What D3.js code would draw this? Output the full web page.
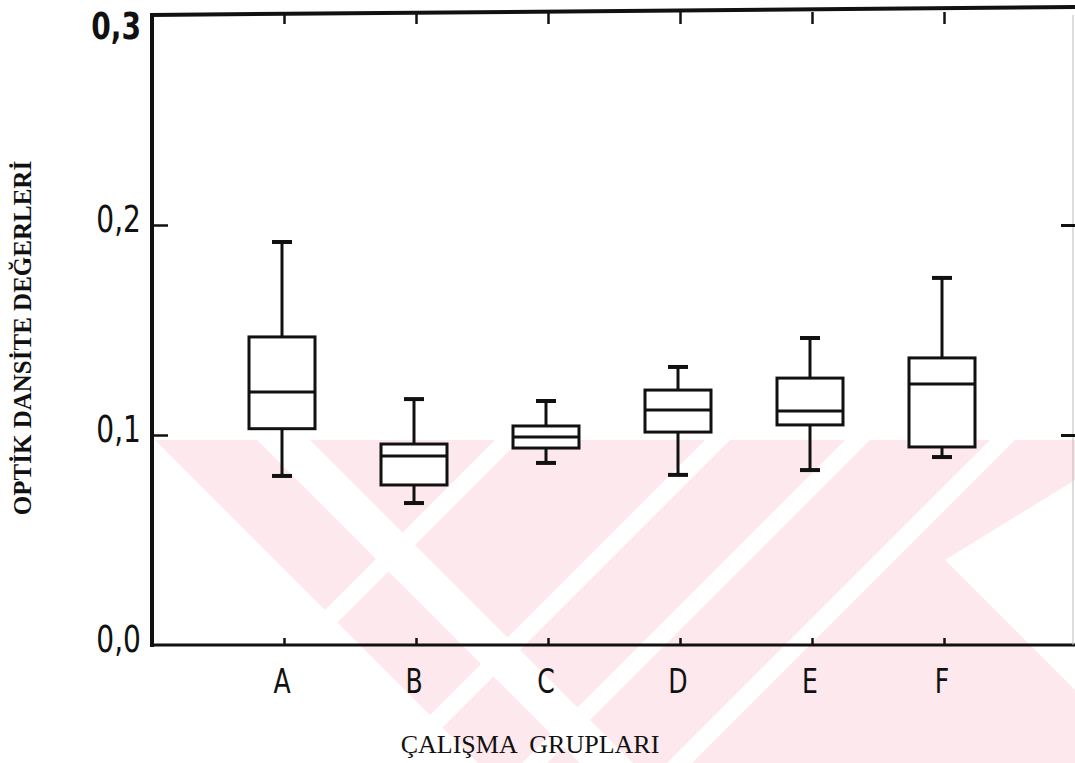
<!DOCTYPE html>
<html>
<head>
<meta charset="utf-8">
<script src="https://cdn.jsdelivr.net/npm/d3@7/dist/d3.min.js"></script>
<style>
  html, body { margin: 0; padding: 0; background: #fff; }
  svg { display: block; }
</style>
</head>
<body>
<svg id="chart" width="1075" height="763"></svg>
<script>
// ---- data ----
const categories = ["A", "B", "C", "D", "E", "F"];
const whiskerLow  = [0.0805, 0.0676, 0.0867, 0.0810, 0.0833, 0.0895];
const quartile1   = [0.1030, 0.0762, 0.0938, 0.1014, 0.1048, 0.0943];
const medians     = [0.1205, 0.0900, 0.0990, 0.1119, 0.1114, 0.1243];
const quartile3   = [0.1467, 0.0957, 0.1043, 0.1214, 0.1271, 0.1367];
const whiskerHigh = [0.1919, 0.1171, 0.1162, 0.1324, 0.1462, 0.1748];
const yTicks = [0.0, 0.1, 0.2, 0.3];
const yTickLabels = ["0,0", "0,1", "0,2", "0,3"];
const xTitle = "ÇALIŞMA  GRUPLARI";
const yTitle = "OPTİK DANSİTE DEĞERLERİ";

(function () {
// ---- layout ----
const svg = d3.select("#chart");
const pL = 152, pR = 1076, pT = 15, pB = 645;
const x = d3.scaleLinear().domain([0, categories.length + 1]).range([pL, pR]);
const y = d3.scaleLinear().domain([0, 0.3]).range([pB, pT]);
const tickFont = "'DejaVu Sans', sans-serif";

// ---- watermark (light pink background mark with white diagonal cuts) ----
const wm = svg.append("g");
const pink = "#fde9ed";
wm.append("rect").attr("x", 155).attr("y", 440).attr("width", 920).attr("height", 323).attr("fill", pink);
const cuts = [
  [[155, 440], [478, 763], [155, 763]],
  [[257, 440], [310, 440], [633, 763], [580, 763]],
  [[495, 440], [520, 440], [197, 763], [172, 763]],
  [[705, 440], [730, 440], [407, 763], [382, 763]],
  [[845, 440], [870, 440], [547, 763], [522, 763]],
  [[990, 440], [1015, 440], [692, 763], [667, 763]],
  [[1075, 480], [945, 560], [1075, 690]]
];
cuts.forEach(p => wm.append("polygon").attr("fill", "#fff").attr("points", p.map(d => d.join(",")).join(" ")));

// ---- frame / axes ----
const ink = "#111";
svg.append("line").attr("x1", pL).attr("x2", pL).attr("y1", y(0.3) - 2).attr("y2", y(0) + 2)
  .attr("stroke", ink).attr("stroke-width", 4);
svg.append("line").attr("x1", pL - 2).attr("x2", 1075).attr("y1", y(0)).attr("y2", y(0))
  .attr("stroke", ink).attr("stroke-width", 3);
svg.append("line").attr("x1", pL - 2).attr("x2", 1075).attr("y1", y(0.3)).attr("y2", y(0.3) - 8)
  .attr("stroke", ink).attr("stroke-width", 4);
svg.append("line").attr("x1", 1073).attr("x2", 1073).attr("y1", y(0.3)).attr("y2", y(0))
  .attr("stroke", "#bbb").attr("stroke-width", 1);

// y ticks: left (inward) and right (inward)
const yAxisL = d3.axisRight(y).tickValues([0.1, 0.2]).tickSize(16).tickFormat("");
const gL = svg.append("g").attr("transform", `translate(${pL},0)`).call(yAxisL);
gL.select(".domain").remove();
gL.selectAll(".tick line").attr("stroke", ink).attr("stroke-width", 2.5);
const yAxisR = d3.axisLeft(y).tickValues([0.1, 0.2]).tickSize(14).tickFormat("");
const gR = svg.append("g").attr("transform", `translate(1075,0)`).call(yAxisR);
gR.select(".domain").remove();
gR.selectAll(".tick line").attr("stroke", ink).attr("stroke-width", 3);

// y tick labels (narrow lettering)
svg.append("g").selectAll("g").data(yTicks).join("g")
  .attr("transform", (d, i) => `translate(141,${i === 3 ? 39 : y(d) + 7}) scale(0.74,1)`)
  .append("text")
  .attr("text-anchor", "end")
  .attr("font-family", tickFont)
  .attr("font-size", 38)
  .attr("font-weight", (d, i) => i === 3 ? "bold" : "normal")
  .attr("fill", ink)
  .text((d, i) => yTickLabels[i]);

// x ticks: bottom (up) and top (down)
const xPos = categories.map((c, i) => i + 1);
const xAxisB = d3.axisTop(x).tickValues(xPos).tickSize(7).tickFormat("");
const gB = svg.append("g").attr("transform", `translate(0,${pB})`).call(xAxisB);
gB.select(".domain").remove();
gB.selectAll(".tick line").attr("stroke", ink).attr("stroke-width", 2.5);
const xAxisT = d3.axisBottom(x).tickValues(xPos).tickSize(12).tickFormat("");
const gT = svg.append("g").attr("transform", `translate(0,${pT - 3})`).call(xAxisT);
gT.select(".domain").remove();
gT.selectAll(".tick line").attr("stroke", ink).attr("stroke-width", 2.5);

// x tick labels
svg.append("g").selectAll("g").data(categories).join("g")
  .attr("transform", (d, i) => `translate(${x(i + 1) - 2},693) scale(0.74,1)`)
  .append("text")
  .attr("text-anchor", "middle")
  .attr("font-family", tickFont)
  .attr("font-size", 34)
  .attr("fill", ink)
  .text(d => d);

// ---- boxes ----
const boxW = 66, capW = 20;
const g = svg.append("g").attr("stroke", ink).attr("fill", "none");
categories.forEach((c, i) => {
  const cx = x(i + 1) - 2;
  g.append("line").attr("x1", cx).attr("x2", cx).attr("y1", y(quartile3[i])).attr("y2", y(whiskerHigh[i])).attr("stroke-width", 3);
  g.append("line").attr("x1", cx).attr("x2", cx).attr("y1", y(quartile1[i])).attr("y2", y(whiskerLow[i])).attr("stroke-width", 3);
  g.append("line").attr("x1", cx - capW / 2).attr("x2", cx + capW / 2).attr("y1", y(whiskerHigh[i])).attr("y2", y(whiskerHigh[i])).attr("stroke-width", 4);
  g.append("line").attr("x1", cx - capW / 2).attr("x2", cx + capW / 2).attr("y1", y(whiskerLow[i])).attr("y2", y(whiskerLow[i])).attr("stroke-width", 4);
  g.append("rect").attr("x", cx - boxW / 2).attr("width", boxW)
    .attr("y", y(quartile3[i])).attr("height", y(quartile1[i]) - y(quartile3[i]))
    .attr("fill", "#fff").attr("stroke-width", 3);
  g.append("line").attr("x1", cx - boxW / 2).attr("x2", cx + boxW / 2).attr("y1", y(medians[i])).attr("y2", y(medians[i])).attr("stroke-width", 3);
});

// ---- titles ----
svg.append("text").attr("x", 530).attr("y", 753).attr("text-anchor", "middle")
  .attr("font-family", "'Liberation Serif', 'DejaVu Serif', serif").attr("font-size", 26)
  .attr("fill", ink).style("white-space", "pre").text(xTitle);
svg.append("text").attr("transform", "translate(31,338) rotate(-90)").attr("text-anchor", "middle")
  .attr("font-family", "'Liberation Serif', 'DejaVu Serif', serif").attr("font-size", 25).attr("font-weight", "bold")
  .attr("fill", ink).text(yTitle);
})();
</script>
</body>
</html>
